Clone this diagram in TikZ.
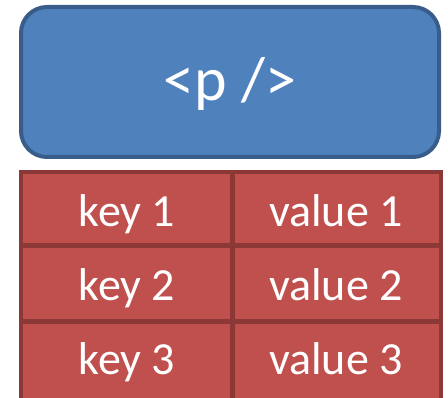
\documentclass[tikz,border=0pt]{standalone}
\usepackage{fontspec}
\setmainfont{Carlito}
\definecolor{bluefill}{HTML}{4F81BD}
\definecolor{blueline}{HTML}{385D8A}
\definecolor{redfill}{HTML}{C0504D}
\definecolor{redline}{HTML}{8C3836}
\begin{document}
\begin{tikzpicture}[x=1pt,y=-1pt,
  headbox/.style={draw=blueline,fill=bluefill,line width=4pt,rounded corners=26pt},
  tablebox/.style={draw=redline,fill=redfill,line width=4pt},
  celltext/.style={text=white,font=\fontsize{46}{50}\selectfont,inner sep=0pt,anchor=base},
  headtext/.style={text=white,font=\fontsize{62}{68}\selectfont,inner sep=0pt,anchor=base}]
\useasboundingbox (0,0) rectangle (448,398);
\clip (0,0) rectangle (448,398);
\draw[headbox] (21,7) rectangle (439,157);
\node[headtext] (head) at (230,101) {<p />};
\draw[tablebox] (21,172) rectangle (441,420);
\draw[redline,line width=5pt] (21,246) -- (441,246);
\draw[redline,line width=5pt] (21,322) -- (441,322);
\draw[redline,line width=5pt] (232,172) -- (232,420);
\node[celltext] (k1) at (127,227) {key 1};
\node[celltext] (v1) at (336,227) {value 1};
\node[celltext] (k2) at (127,301) {key 2};
\node[celltext] (v2) at (336,301) {value 2};
\node[celltext] (k3) at (127,375) {key 3};
\node[celltext] (v3) at (336,375) {value 3};
\end{tikzpicture}
\end{document}
